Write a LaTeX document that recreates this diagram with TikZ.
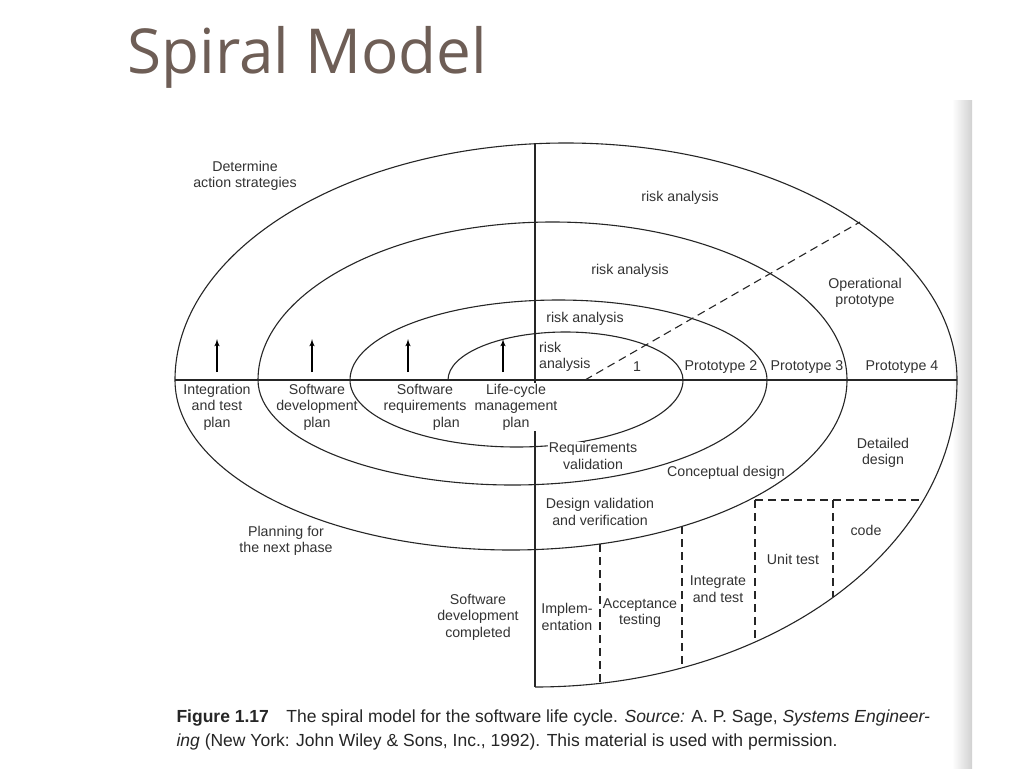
\documentclass[tikz,border=0pt]{standalone}
\usepackage{fontspec}
\setmainfont{Liberation Sans}
\newfontfamily\titlefont{Open Sans}
\usetikzlibrary{arrows,positioning}
\tikzset{
    spiral/.style={draw=black!85, line width=1.1pt},
    phase/.style={draw=black!85, dashed, dash pattern=on 8pt off 5pt, line width=1.1pt},
    lbl/.style={font=\fontsize{14.2}{16.5}\selectfont, text=black!80, align=center, inner sep=1pt},
    uparrow/.style={draw=black, line width=1.5pt, -latex'},
}
\begin{document}
\begin{tikzpicture}[x=1pt,y=-1pt]
	\useasboundingbox (0,0) rectangle (1024,768);
	\fill[white] (0,0) rectangle (1024,768);
	\shade[left color=white, right color=black!18] (952,100) rectangle (972,768);
	% title
	\node[anchor=west, font=\titlefont\fontsize{62}{64}\selectfont, text={rgb,255:red,110;green,94;blue,86}] (title) at (124,57) {Spiral Model};
	% axes
	\draw[spiral] (175,380) -- (957,380);
	\draw[spiral] (535,143) -- (535,687);
	% spiral arcs
	\draw[spiral] (448,380) arc[start angle=180,end angle=360,x radius=117.5,y radius=48];
	\draw[spiral] (683,380) arc[start angle=0,end angle=180,x radius=166.5,y radius=67];
	\draw[spiral] (350,380) arc[start angle=180,end angle=360,x radius=208.5,y radius=80];
	\draw[spiral] (767,380) arc[start angle=0,end angle=180,x radius=254.5,y radius=105];
	\draw[spiral] (258,380) arc[start angle=180,end angle=360,x radius=294.5,y radius=158];
	\draw[spiral] (847,380) arc[start angle=0,end angle=180,x radius=336,y radius=170];
	\draw[spiral] (175,380) arc[start angle=180,end angle=360,x radius=391,y radius=237];
	\draw[spiral] (957,380) arc[start angle=0,end angle=90,x radius=422,y radius=307];
	% dashed phases
	\draw[phase] (585,380) -- (860,222);
	\draw[phase] (755,500) -- (923,500);
	\draw[phase] (600,544) -- (600,683);
	\draw[phase] (682,526) -- (682,668);
	\draw[phase] (755,500) -- (755,642);
	\draw[phase] (833,500) -- (833,597);
	% arrows
	\foreach \ax in {217,312,408,503}
		\draw[uparrow] (\ax,372) -- (\ax,339);
	% labels
	\node[lbl] (strat) at (245,176) {Determine\\action strategies};
	\node[lbl] (risk4) at (680,198) {risk analysis};
	\node[lbl] (risk3) at (630,271) {risk analysis};
	\node[lbl] (risk2) at (585,319) {risk analysis};
	\node[lbl, align=left, anchor=west] (risk1) at (538,357) {risk\\analysis};
	\node[lbl] (proto1) at (637,367) {1};
	\node[lbl] (proto2) at (721,367) {Prototype 2};
	\node[lbl] (proto3) at (807,367) {Prototype 3};
	\node[lbl] (proto4) at (902,367) {Prototype 4};
	\node[lbl] (oper) at (865,293) {Operational\\prototype};
	\node[lbl] (integ) at (217,407) {Integration\\and test\\plan};
	\node[lbl] (devplan) at (317,407) {Software\\development\\plan};
	\node[lbl] (reqplan) at (425,407) {Software\\requirements\\\hspace*{3em}plan};
	\node[lbl, fill=white] (lcplan) at (516,407) {Life-cycle\\management\\plan};
	\node[lbl, fill=white] (reqval) at (593,456) {Requirements\\validation};
	\node[lbl] (concept) at (726,473) {Conceptual design};
	\node[lbl] (detail) at (883,453) {Detailed\\design};
	\node[lbl] (desval) at (600,512) {Design validation\\and verification};
	\node[lbl] (planning) at (286,541) {Planning for\\the next phase};
	\node[lbl] (complete) at (478,617) {Software\\development\\completed};
	\node[lbl] (implem) at (567,617) {Implem-\\entation};
	\node[lbl] (accept) at (640,613) {Acceptance\\testing};
	\node[lbl] (inttest) at (718,589) {Integrate\\and test};
	\node[lbl] (unit) at (793,559) {Unit test};
	\node[lbl] (code) at (866,530) {code};
	% caption
	\node[anchor=west, font=\fontsize{17.5}{24}\selectfont, text=black!85, align=left] (caption) at (173,730)
		{\textbf{Figure 1.17}\quad The spiral model for the software life cycle. \textit{Source:} A. P. Sage, \textit{Systems Engineer-}\\
		 \textit{ing} (New York: John Wiley \& Sons, Inc., 1992). This material is used with permission.};
\end{tikzpicture}
\end{document}
